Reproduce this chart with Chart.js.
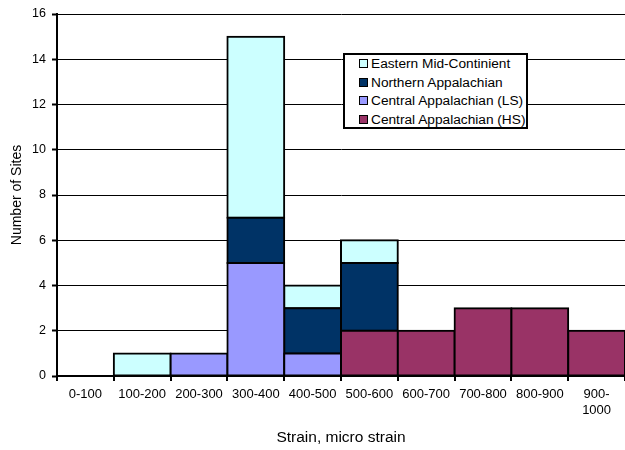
<!DOCTYPE html>
<html>
<head>
<meta charset="utf-8">
<script src="https://cdn.jsdelivr.net/npm/chart.js@4/dist/chart.umd.min.js"></script>
<style>
  html, body { margin: 0; padding: 0; background: #fff; }
  #wrap { position: relative; width: 625px; height: 450px; }
  #legend {
    position: absolute; left: 343px; top: 53px; width: 181px; height: 72px;
    border: 2px solid #000; background: #fff; box-sizing: content-box;
    font-family: "Liberation Sans", Arial, sans-serif; font-size: 13.7px; color: #000;
    padding: 0;
  }
  #legend .item { position: absolute; left: 14px; height: 14px; line-height: 14px; white-space: nowrap; }
  #legend .box { display: inline-block; width: 7px; height: 7px; border: 1px solid #000; margin-right: 3px; vertical-align: 0px; }
</style>
</head>
<body>
<div id="wrap">
  <canvas id="c" width="625" height="450"></canvas>
  <div id="legend"></div>
</div>
<script>
// Strain bins (micro strain)
const categories = ['0-100', '100-200', '200-300', '300-400', '400-500',
                    '500-600', '600-700', '700-800', '800-900', ['900-', '1000']];

// Number of sites per bin, by region
const easternMidContinent  = [null, 1, null, 8, 1, 1, null, null, null, null];
const northernAppalachian  = [null, null, null, 2, 2, 3, null, null, null, null];
const centralAppalachianLS = [null, null, 1, 5, 1, null, null, null, null, null];
const centralAppalachianHS = [null, null, null, null, null, 2, 2, 3, 3, 2];

const seriesNames  = ['Eastern Mid-Continient', 'Northern Appalachian',
                      'Central Appalachian (LS)', 'Central Appalachian (HS)'];
const seriesColors = ['#CCFFFF', '#003366', '#9999FF', '#993366'];

const yTicks = [0, 2, 4, 6, 8, 10, 12, 14, 16];

const FONT = '"Liberation Sans", Arial, sans-serif';

// Stack from the bottom up: HS / LS, then Northern, then Eastern on top
const stackOrder = [
  { name: seriesNames[3], data: centralAppalachianHS, color: seriesColors[3] },
  { name: seriesNames[2], data: centralAppalachianLS, color: seriesColors[2] },
  { name: seriesNames[1], data: northernAppalachian,  color: seriesColors[1] },
  { name: seriesNames[0], data: easternMidContinent,  color: seriesColors[0] }
];

const datasets = stackOrder.map(s => ({
  label: s.name,
  data: s.data,
  backgroundColor: s.color,
  borderColor: '#000',
  borderWidth: 2,
  borderSkipped: false,
  inflateAmount: 1,
  barPercentage: 1,
  categoryPercentage: 1
}));

new Chart(document.getElementById('c'), {
  type: 'bar',
  data: { labels: categories, datasets },
  options: {
    responsive: false,
    animation: false,
    layout: { padding: { top: 14, right: 0, bottom: 0, left: 0 } },
    plugins: { legend: { display: false }, tooltip: { enabled: false } },
    scales: {
      x: {
        stacked: true,
        grid: { display: true, drawOnChartArea: false, offset: true, color: '#000', lineWidth: 2, tickLength: 5 },
        border: { display: true, color: '#000', width: 2 },
        ticks: { color: '#000', font: { family: FONT, size: 13 }, padding: 6, maxRotation: 0, autoSkip: false,
                 lineHeight: 1.15 },
        title: { display: true, text: 'Strain, micro strain', color: '#000',
                 font: { family: FONT, size: 15.5 }, padding: { top: 0, bottom: 3 } },
        afterFit: s => { s.height = 74; }
      },
      y: {
        stacked: true,
        min: 0, max: 16,
        afterBuildTicks: s => { s.ticks = yTicks.map(v => ({ value: v })); },
        grid: { color: '#000', lineWidth: 1, tickLength: 5, tickColor: '#000', tickWidth: 2 },
        border: { display: true, color: '#000', width: 2 },
        ticks: { color: '#000', font: { family: FONT, size: 12.5 }, padding: 6 },
        title: { display: true, text: 'Number of Sites', color: '#000',
                 font: { family: FONT, size: 14 }, padding: { top: 9, bottom: 0 } },
        afterFit: s => { s.width = 57; }
      }
    }
  }
});

// Legend box listing the regions in their stacking order from the top
const legend = document.getElementById('legend');
seriesNames.forEach((name, i) => {
  const item = document.createElement('div');
  item.className = 'item';
  item.style.top = (2 + i * 18.5) + 'px';
  const box = document.createElement('span');
  box.className = 'box';
  box.style.background = seriesColors[i];
  item.appendChild(box);
  item.appendChild(document.createTextNode(name));
  legend.appendChild(item);
});
</script>
</body>
</html>
